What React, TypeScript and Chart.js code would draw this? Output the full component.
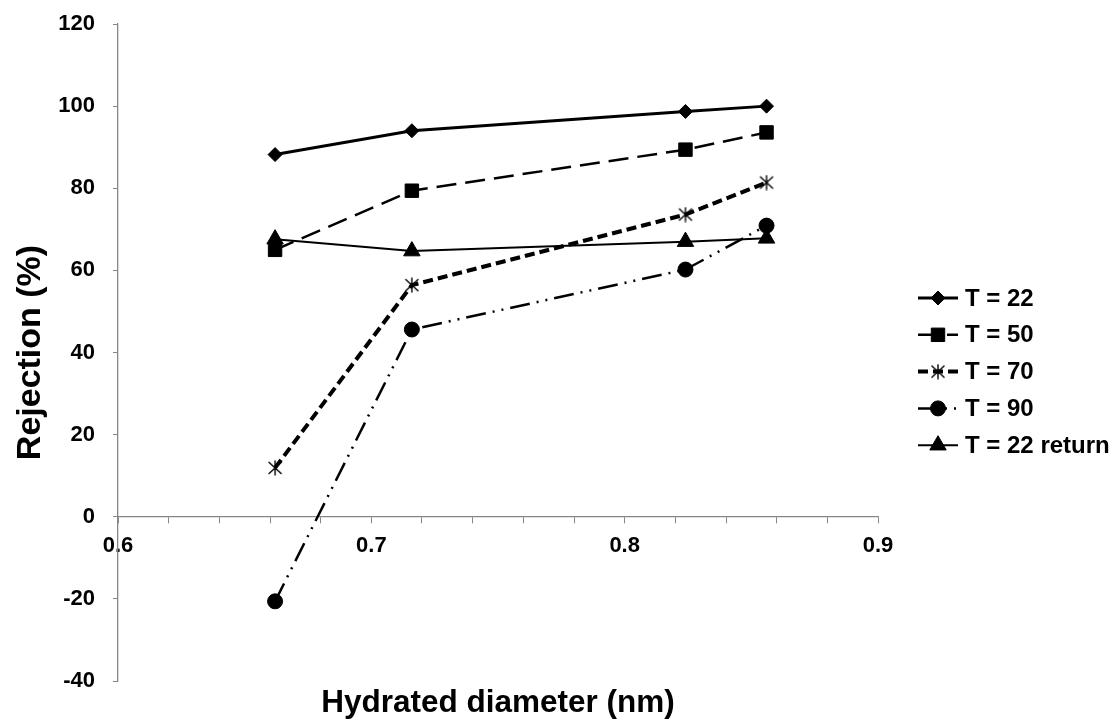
import React, { useEffect, useRef } from 'react';
import { Chart, registerables } from 'chart.js';
import { drawPoint } from 'chart.js/helpers';

Chart.register(...registerables);

// ---- data ----
const xValues = [0.662, 0.716, 0.824, 0.856];
const seriesLabels = ['T = 22', 'T = 50', 'T = 70', 'T = 90', 'T = 22 return'];
const t22 = [88.2, 94, 98.7, 100];
const t50 = [65, 79.4, 89.4, 93.6];
const t70 = [11.9, 56.4, 73.6, 81.4];
const t90 = [-20.6, 45.6, 60.2, 70.9];
const t22Return = [67.6, 64.7, 67, 67.8];

const yMin = -40;
const yMax = 120;
const yStep = 20;
const xMin = 0.6;
const xMax = 0.9;
const xMinorStep = 0.02;

const xTitle = 'Hydrated diameter (nm)';
const yTitle = 'Rejection (%)';

const FONT = '"Liberation Sans", Arial, Helvetica, sans-serif';
const AXIS_COLOR = '#868686';

function makeStar(): HTMLCanvasElement {
  const c = document.createElement('canvas');
  c.width = 16;
  c.height = 16;
  const g = c.getContext('2d')!;
  g.strokeStyle = '#000';
  g.lineWidth = 1.4;
  g.beginPath();
  g.moveTo(8, 0.5);
  g.lineTo(8, 15.5);
  g.moveTo(1.5, 2);
  g.lineTo(14.5, 14);
  g.moveTo(14.5, 2);
  g.lineTo(1.5, 14);
  g.stroke();
  return c;
}

const legendPlugin = {
  id: 'sideLegend',
  afterDraw(chart: any) {
    const ctx = chart.ctx;
    const left = 918;
    const lineLen = 40;
    const top = 298;
    const gap = 36.8;
    chart.data.datasets.forEach((ds: any, i: number) => {
      const y = top + i * gap;
      ctx.save();
      ctx.strokeStyle = '#000';
      ctx.lineWidth = ds.borderWidth;
      ctx.setLineDash(ds.borderDash || []);
      ctx.beginPath();
      ctx.moveTo(left, y);
      ctx.lineTo(left + lineLen, y);
      ctx.stroke();
      ctx.setLineDash([]);
      ctx.fillStyle = '#000';
      ctx.strokeStyle = '#000';
      ctx.lineWidth = 1;
      drawPoint(ctx, { pointStyle: ds.pointStyle, radius: ds.pointRadius, rotation: 0, borderWidth: 1 }, left + lineLen / 2, y);
      ctx.font = `bold 24px ${FONT}`;
      ctx.textBaseline = 'middle';
      ctx.textAlign = 'left';
      ctx.fillText(ds.label, left + lineLen + 7, y + 1);
      ctx.restore();
    });
  },
};

export default function App() {
  const ref = useRef<HTMLCanvasElement | null>(null);

  useEffect(() => {
    if (!ref.current) return;
    const star = makeStar();
    const pts = (ys: number[]) => xValues.map((x, i) => ({ x, y: ys[i] }));
    const base = {
      borderColor: '#000',
      backgroundColor: '#000',
      pointBackgroundColor: '#000',
      pointBorderColor: '#000',
      pointBorderWidth: 1,
      showLine: true,
      tension: 0,
      fill: false,
    };
    const zeroPad = (s: any) => {
      s.paddingTop = 0;
      s.paddingBottom = 0;
    };
    const chart = new Chart(ref.current, {
      type: 'scatter',
      data: {
        datasets: [
          { ...base, label: seriesLabels[0], data: pts(t22), borderWidth: 3, borderDash: [], pointStyle: 'rectRot', pointRadius: 7 },
          { ...base, label: seriesLabels[1], data: pts(t50), borderWidth: 2.5, borderDash: [20, 9], pointStyle: 'rect', pointRadius: 9.5 },
          { ...base, label: seriesLabels[2], data: pts(t70), borderWidth: 4, borderDash: [10, 5], pointStyle: star, pointRadius: 7 },
          { ...base, label: seriesLabels[3], data: pts(t90), borderWidth: 2.5, borderDash: [20, 7, 2, 7, 2, 7], pointStyle: 'circle', pointRadius: 7.5 },
          { ...base, label: seriesLabels[4], data: pts(t22Return), borderWidth: 2, borderDash: [], pointStyle: 'triangle', pointRadius: 9.5 },
        ] as any,
      },
      options: {
        animation: false,
        responsive: true,
        maintainAspectRatio: false,
        layout: { padding: { top: 24, right: 235, left: 0, bottom: 0 } },
        plugins: { legend: { display: false }, tooltip: { enabled: false } },
        scales: {
          x: {
            type: 'linear',
            position: { y: 0 } as any,
            min: xMin,
            max: xMax,
            ticks: {
              stepSize: xMinorStep,
              autoSkip: false,
              maxRotation: 0,
              padding: 10,
              color: '#000',
              font: { family: FONT, size: 22, weight: 'bold' },
              callback: (v: any) => {
                const r = Math.round(Number(v) * 10);
                return Math.abs(Number(v) * 10 - r) < 1e-6 ? (r / 10).toFixed(1) : '';
              },
            },
            grid: { drawOnChartArea: false, drawTicks: true, tickLength: 6, color: AXIS_COLOR, lineWidth: 1 },
            border: { color: AXIS_COLOR, width: 1.3 },
            afterFit: zeroPad,
          },
          x2: {
            type: 'linear',
            position: 'bottom',
            min: xMin,
            max: xMax,
            ticks: { display: false },
            grid: { display: false },
            border: { display: false },
            title: {
              display: true,
              text: xTitle,
              color: '#000',
              font: { family: FONT, size: 31.5, weight: 'bold' },
              padding: { top: 0, bottom: -3 },
            },
            afterFit: (s: any) => {
              s.height = 38;
              zeroPad(s);
            },
          },
          y: {
            type: 'linear',
            min: yMin,
            max: yMax,
            ticks: {
              stepSize: yStep,
              padding: 18,
              color: '#000',
              font: { family: FONT, size: 22, weight: 'bold' },
            },
            grid: { drawOnChartArea: false, drawTicks: true, tickLength: 5, color: AXIS_COLOR, lineWidth: 1 },
            border: { color: AXIS_COLOR, width: 1.3 },
            title: {
              display: true,
              text: yTitle,
              color: '#000',
              font: { family: FONT, size: 34, weight: 'bold' },
              padding: { top: 10, bottom: 0 },
            },
            afterFit: (s: any) => {
              s.width = 118;
              zeroPad(s);
            },
          },
        } as any,
      },
      plugins: [legendPlugin],
    });
    return () => chart.destroy();
  }, []);

  return (
    <div style={{ position: 'fixed', left: 0, top: 0, width: 1113, height: 719, background: '#fff' }}>
      <canvas ref={ref} />
    </div>
  );
}
